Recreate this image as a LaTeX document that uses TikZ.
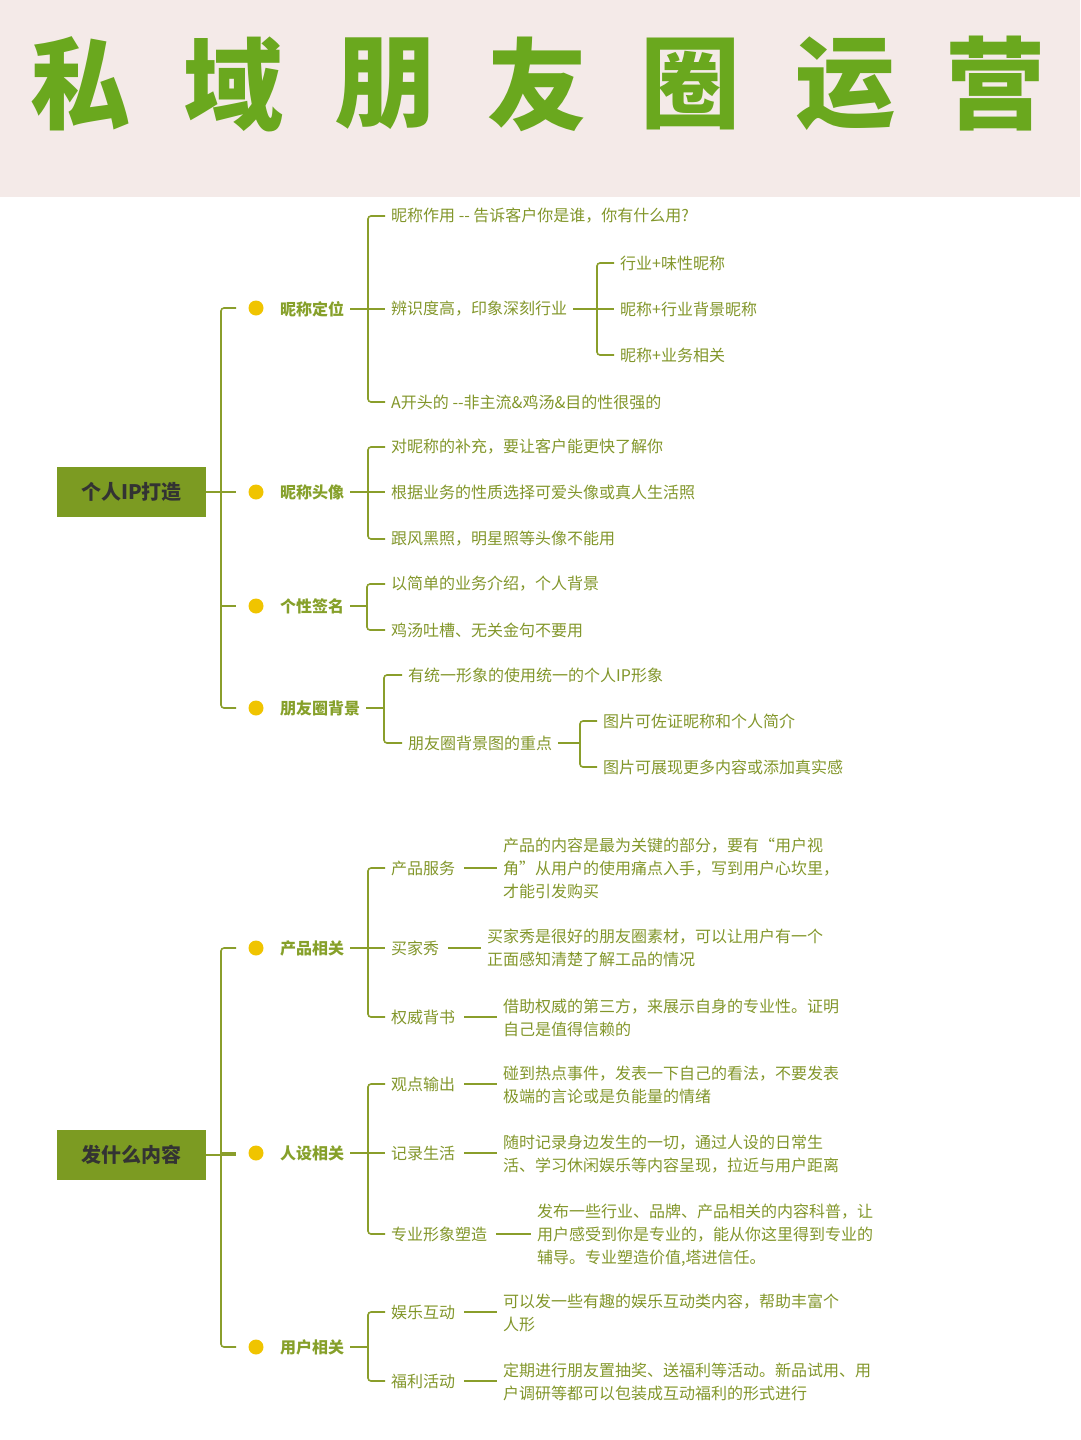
\documentclass[tikz,border=0pt]{standalone}
\usepackage{fontspec}
\setmainfont{Noto Sans CJK SC}
\newfontfamily\cjk{Noto Sans CJK SC}
\definecolor{ln}{HTML}{8A9E2B}
\definecolor{tx}{HTML}{82962A}
\definecolor{lv}{HTML}{86A02A}
\definecolor{rootf}{HTML}{7C9B22}
\definecolor{ttl}{HTML}{6AA81E}
\definecolor{hdr}{HTML}{F4EAE8}
\definecolor{dot}{HTML}{F0C400}
\begin{document}
\begin{tikzpicture}[x=1pt,y=-1pt,
  ln/.style={draw=ln,line width=1.6pt},
  br/.style={ln,rounded corners=3pt},
  root/.style={fill=rootf,minimum width=149pt,minimum height=50pt,inner sep=0pt,font=\fontsize{20}{24}\selectfont\bfseries,text=black!80},
  lone/.style={anchor=west,inner sep=0pt,text=lv,font=\fontsize{16}{20}\selectfont\bfseries},
  leaf/.style={anchor=west,inner sep=0pt,text=tx,font=\fontsize{16}{20}\selectfont},
  desc/.style={anchor=west,inner sep=0pt,text=tx,align=left,font=\fontsize{16}{23}\selectfont},
  ydot/.style={circle,fill=dot,minimum size=15pt,inner sep=0pt},
  ttlch/.style={text=ttl,font=\fontsize{100}{110}\selectfont\bfseries}]
\useasboundingbox (0,0) rectangle (1080,1440);
\fill[hdr] (0,0) rectangle (1080,197);
\foreach \c/\x in {私/80,域/233,朋/385,友/537,圈/690,运/845,营/995}
  \node[ttlch] (t\x) at (\x,84) {\c};

% ===== root 1 =====
\node[root] (r1) at (131.5,492) {个人IP打造};
\draw[br] (236,308) -- (221,308) -- (221,708) -- (236,708);
\draw[ln] (r1.east) -- (236,492);
\draw[ln] (221,606) -- (236,606);
\foreach \y in {308,492,606,708} \node[ydot] (d\y) at (256,\y) {};
\node[lone] (a1) at (280,309) {昵称定位};
\node[lone] (a2) at (280,492) {昵称头像};
\node[lone] (a3) at (280,606) {个性签名};
\node[lone] (a4) at (280,708) {朋友圈背景};

% 昵称定位
\draw[br] (385,216) -- (368,216) -- (368,402) -- (385,402);
\draw[ln,shorten <=6pt] (a1.east) -- (385,309);
\node[leaf] (a11) at (391,216) {昵称作用 {-}{-} 告诉客户你是谁，你有什么用?};
\node[leaf] (a12) at (391,309) {辨识度高，印象深刻行业};
\node[leaf] (a13) at (391,402) {A开头的 {-}{-}非主流\&鸡汤\&目的性很强的};
\draw[br] (614,263) -- (597,263) -- (597,355) -- (614,355);
\draw[ln,shorten <=6pt] (a12.east) -- (614,309);
\node[leaf] (a121) at (620,263) {行业+味性昵称};
\node[leaf] (a122) at (620,309) {昵称+行业背景昵称};
\node[leaf] (a123) at (620,355) {昵称+业务相关};

% 昵称头像
\draw[br] (385,447) -- (368,447) -- (368,539) -- (385,539);
\draw[ln,shorten <=6pt] (a2.east) -- (385,492);
\node[leaf] (a21) at (391,447) {对昵称的补充，要让客户能更快了解你};
\node[leaf] (a22) at (391,492) {根据业务的性质选择可爱头像或真人生活照};
\node[leaf] (a23) at (391,539) {跟风黑照，明星照等头像不能用};

% 个性签名
\draw[br] (385,584) -- (367,584) -- (367,630) -- (385,630);
\draw[ln,shorten <=6pt] (a3.east) -- (367,606);
\node[leaf] (a31) at (391,584) {以简单的业务介绍，个人背景};
\node[leaf] (a32) at (391,630) {鸡汤吐槽、无关金句不要用};

% 朋友圈背景
\draw[br] (402,675) -- (384,675) -- (384,743) -- (402,743);
\draw[ln,shorten <=6pt] (a4.east) -- (384,708);
\node[leaf] (a41) at (408,675) {有统一形象的使用统一的个人IP形象};
\node[leaf] (a42) at (408,743) {朋友圈背景图的重点};
\draw[br] (597,721) -- (580,721) -- (580,767) -- (597,767);
\draw[ln,shorten <=6pt] (a42.east) -- (580,743);
\node[leaf] (a421) at (603,721) {图片可佐证昵称和个人简介};
\node[leaf] (a422) at (603,767) {图片可展现更多内容或添加真实感};

% ===== root 2 =====
\node[root] (r2) at (131.5,1155) {发什么内容};
\draw[br] (236,948) -- (221,948) -- (221,1347) -- (236,1347);
\draw[ln] (r2.east) -- (236,1155);
\foreach \y in {948,1153,1347} \node[ydot] (e\y) at (256,\y) {};
\draw[ln] (221,1153) -- (236,1153);
\node[lone] (b1) at (280,948) {产品相关};
\node[lone] (b2) at (280,1153) {人设相关};
\node[lone] (b3) at (280,1347) {用户相关};

% 产品相关
\draw[br] (385,868) -- (368,868) -- (368,1017) -- (385,1017);
\draw[ln,shorten <=6pt] (b1.east) -- (385,948);
\node[leaf] (b11) at (391,868) {产品服务};
\node[leaf] (b12) at (391,948) {买家秀};
\node[leaf] (b13) at (391,1017) {权威背书};
\node[desc] (c11) at (503,868) {产品的内容是最为关键的部分，要有“用户视\\角”从用户的使用痛点入手，写到用户心坎里，\\才能引发购买};
\node[desc] (c12) at (487,948) {买家秀是很好的朋友圈素材，可以让用户有一个\\正面感知清楚了解工品的情况};
\node[desc] (c13) at (503,1018) {借助权威的第三方，来展示自身的专业性。证明\\自己是值得信赖的};
\draw[ln,shorten <=9pt,shorten >=6pt] (b11.east) -- (b11.east -| c11.west);
\draw[ln,shorten <=9pt,shorten >=6pt] (b12.east) -- (b12.east -| c12.west);
\draw[ln,shorten <=9pt,shorten >=6pt] (b13.east) -- (b13.east -| c13.west);

% 人设相关
\draw[br] (385,1084) -- (368,1084) -- (368,1234) -- (385,1234);
\draw[ln,shorten <=6pt] (b2.east) -- (385,1153);
\node[leaf] (b21) at (391,1084) {观点输出};
\node[leaf] (b22) at (391,1153) {记录生活};
\node[leaf] (b23) at (391,1234) {专业形象塑造};
\node[desc] (c21) at (503,1085) {碰到热点事件，发表一下自己的看法，不要发表\\极端的言论或是负能量的情绪};
\node[desc] (c22) at (503,1154) {随时记录身边发生的一切，通过人设的日常生\\活、学习休闲娱乐等内容呈现，拉近与用户距离};
\node[desc] (c23) at (537,1235) {发布一些行业、品牌、产品相关的内容科普，让\\用户感受到你是专业的，能从你这里得到专业的\\辅导。专业塑造价值,塔进信任。};
\draw[ln,shorten <=9pt,shorten >=6pt] (b21.east) -- (b21.east -| c21.west);
\draw[ln,shorten <=9pt,shorten >=6pt] (b22.east) -- (b22.east -| c22.west);
\draw[ln,shorten <=9pt,shorten >=6pt] (b23.east) -- (b23.east -| c23.west);

% 用户相关
\draw[br] (385,1312) -- (368,1312) -- (368,1381) -- (385,1381);
\draw[ln,shorten <=6pt] (b3.east) -- (368,1347);
\node[leaf] (b31) at (391,1312) {娱乐互动};
\node[leaf] (b32) at (391,1381) {福利活动};
\node[desc] (c31) at (503,1313) {可以发一些有趣的娱乐互动类内容，帮助丰富个\\人形};
\node[desc] (c32) at (503,1382) {定期进行朋友置抽奖、送福利等活动。新品试用、用\\户调研等都可以包装成互动福利的形式进行};
\draw[ln,shorten <=9pt,shorten >=6pt] (b31.east) -- (b31.east -| c31.west);
\draw[ln,shorten <=9pt,shorten >=6pt] (b32.east) -- (b32.east -| c32.west);
\end{tikzpicture}
\end{document}
